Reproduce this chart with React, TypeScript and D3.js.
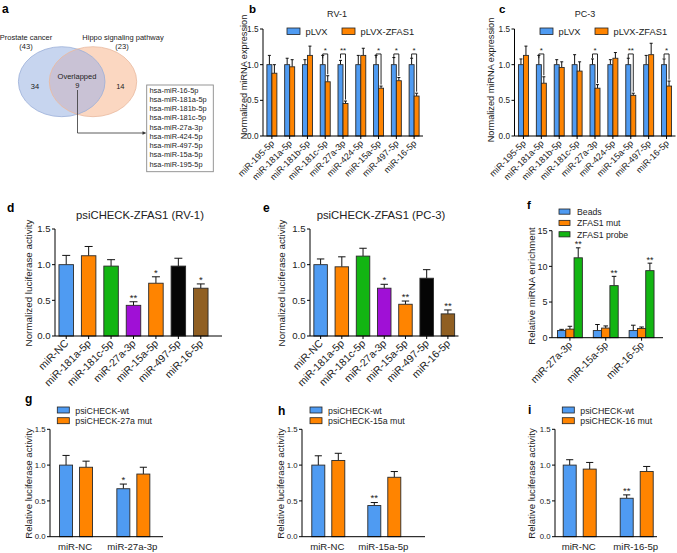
import React from "react";
import * as d3 from "d3";

const FONT = "'Liberation Sans', Arial, Helvetica, sans-serif";
const BLUE = "#4f9bf2";
const ORANGE = "#ff8400";
const GREEN = "#12b512";
const PURPLE = "#a010d6";
const BLACK = "#050505";
const BROWN = "#905f22";
const INK = "#222";

// ---------- a : Venn ----------
const vennSets = ["Prostate cancer", "Hippo signaling pathway"];
const vennSetSizes = [43, 23];
const vennRegionCounts = [34, 9, 14];
const vennOverlapLabel = "Overlapped";
const overlapMirnas = [
  "hsa-miR-16-5p",
  "hsa-miR-181a-5p",
  "hsa-miR-181b-5p",
  "hsa-miR-181c-5p",
  "hsa-miR-27a-3p",
  "hsa-miR-424-5p",
  "hsa-miR-497-5p",
  "hsa-miR-15a-5p",
  "hsa-miR-195-5p",
];

// ---------- b, c : expression ----------
const mirCategories = [
  "miR-195-5p",
  "miR-181a-5p",
  "miR-181b-5p",
  "miR-181c-5p",
  "miR-27a-3p",
  "miR-424-5p",
  "miR-15a-5p",
  "miR-497-5p",
  "miR-16-5p",
];
const expressionSeries = ["pLVX", "pLVX-ZFAS1"];
const rv1Plvx = [1, 1, 1, 1, 1, 1, 1, 1, 1];
const rv1PlvxSd = [0.13, 0.09, 0.07, 0.13, 0.06, 0.13, 0.13, 0.1, 0.09];
const rv1Zfas = [0.88, 0.97, 1.13, 0.76, 0.455, 1.13, 0.67, 0.775, 0.56];
const rv1ZfasSd = [0.12, 0.1, 0.13, 0.085, 0.035, 0.1, 0.03, 0.045, 0.04];
const rv1Sig = ["", "", "", "*", "**", "", "*", "*", "*"];
const pc3Plvx = [1, 1, 1, 1, 1, 1, 1, 1, 1];
const pc3PlvxSd = [0.08, 0.13, 0.07, 0.14, 0.08, 0.07, 0.09, 0.13, 0.08];
const pc3Zfas = [1.13, 0.74, 0.96, 0.91, 0.67, 1.09, 0.57, 1.14, 0.7];
const pc3ZfasSd = [0.13, 0.09, 0.08, 0.13, 0.05, 0.08, 0.03, 0.16, 0.07];
const pc3Sig = ["", "*", "", "", "*", "", "**", "", "*"];
const ratioTicks = [0, 0.5, 1, 1.5];

// ---------- d, e : luciferase ----------
const lucCategories = [
  "miR-NC",
  "miR-181a-5p",
  "miR-181c-5p",
  "miR-27a-3p",
  "miR-15a-5p",
  "miR-497-5p",
  "miR-16-5p",
];
const lucColors = [BLUE, ORANGE, GREEN, PURPLE, ORANGE, BLACK, BROWN];
const rv1Luc = [1.0, 1.125, 0.98, 0.43, 0.74, 0.98, 0.67];
const rv1LucSd = [0.13, 0.13, 0.09, 0.05, 0.09, 0.11, 0.06];
const rv1LucSig = ["", "", "", "**", "*", "", "*"];
const pc3Luc = [1.0, 0.97, 1.12, 0.67, 0.445, 0.81, 0.31];
const pc3LucSd = [0.08, 0.14, 0.11, 0.055, 0.045, 0.12, 0.055];
const pc3LucSig = ["", "", "", "*", "**", "", "**"];

// ---------- f : pulldown ----------
const pulldownCategories = ["miR-27a-3p", "miR-15a-5p", "miR-16-5p"];
const pulldownSeries = ["Beads", "ZFAS1 mut", "ZFAS1 probe"];
const beads = [1.0, 1.0, 1.0];
const beadsSd = [0.17, 0.85, 0.75];
const mutProbe = [1.2, 1.35, 1.3];
const mutProbeSd = [0.4, 0.3, 0.2];
const zfasProbe = [11.2, 7.3, 9.4];
const zfasProbeSd = [1.4, 1.3, 1.05];
const pulldownSig = ["**", "**", "**"];
const enrichTicks = [0, 5, 10, 15];

// ---------- g, h, i : rescue ----------
const wtLabel = "psiCHECK-wt";
const gCats = ["miR-NC", "miR-27a-3p"];
const gMutLabel = "psiCHECK-27a mut";
const gWt = [1.0, 0.67];
const gWtSd = [0.135, 0.065];
const gMut = [0.97, 0.875];
const gMutSd = [0.085, 0.095];
const gSig = ["", "*"];
const hCats = ["miR-NC", "miR-15a-5p"];
const hMutLabel = "psiCHECK-15a mut";
const hWt = [1.0, 0.435];
const hWtSd = [0.13, 0.042];
const hMut = [1.065, 0.83];
const hMutSd = [0.1, 0.08];
const hSig = ["", "**"];
const iCats = ["miR-NC", "miR-16-5p"];
const iMutLabel = "psiCHECK-16 mut";
const iWt = [1.0, 0.537];
const iWtSd = [0.075, 0.047];
const iMut = [0.944, 0.911];
const iMutSd = [0.093, 0.07];
const iSig = ["", "**"];

const fmt1 = d3.format(".1f");
const fmt0 = d3.format("d");

function LeftAxis({ x, y, ticks, fmt, fs }: any) {
  const [d0, d1] = y.domain();
  return (
    <g>
      <line x1={x} x2={x} y1={y(d0)} y2={y(d1)} stroke="#000" strokeWidth={1} />
      {ticks.map((t: number) => (
        <g key={t}>
          <line x1={x - 3} x2={x} y1={y(t)} y2={y(t)} stroke="#000" strokeWidth={1} />
          <text x={x - 4.5} y={y(t)} dy="0.35em" textAnchor="end" fontSize={fs} fill={INK}>
            {fmt(t)}
          </text>
        </g>
      ))}
    </g>
  );
}

function Bar({ x, w, y, v, sd, fill }: any) {
  const top = y(v);
  const base = y(0);
  const et = y(v + sd);
  const cx = x + w / 2;
  const cap = Math.max(w * 0.55, 3);
  return (
    <g>
      <line x1={cx} x2={cx} y1={top} y2={et} stroke="#111" strokeWidth={1} />
      <line x1={cx - cap / 2} x2={cx + cap / 2} y1={et} y2={et} stroke="#111" strokeWidth={1} />
      <rect x={x} y={top} width={w} height={base - top} fill={fill} stroke="#2a2a2a" strokeWidth={0.9} />
    </g>
  );
}

function RotLabel({ x, y, text, fs }: any) {
  return (
    <text transform={`translate(${x},${y}) rotate(-45)`} textAnchor="end" fontSize={fs} fill={INK}>
      {text}
    </text>
  );
}

function YTitle({ x, cy, text, fs }: any) {
  return (
    <text transform={`translate(${x},${cy}) rotate(-90)`} textAnchor="middle" fontSize={fs} fill={INK}>
      {text}
    </text>
  );
}

function VennPanel() {
  const L = { cx: 61.7, cy: 81.7, rx: 43.3, ry: 35 };
  const R = { cx: 93, cy: 81.7, rx: 43.7, ry: 35 };
  const listY = d3.scaleLinear().domain([0, overlapMirnas.length - 1]).range([92.7, 166.7]);
  return (
    <g>
      <text x={2} y={13} fontSize={12} fontWeight="bold">a</text>
      <defs>
        <clipPath id="vennLeftClip">
          <ellipse {...L} />
        </clipPath>
      </defs>
      <ellipse {...L} fill="#c7d5ef" />
      <ellipse {...R} fill="#fbd7c1" />
      <ellipse {...R} fill="#c9c2d5" clipPath="url(#vennLeftClip)" />
      <ellipse {...L} fill="none" stroke="#9aafd8" strokeWidth={0.8} />
      <ellipse {...R} fill="none" stroke="#e8b99e" strokeWidth={0.8} />
      <text x={26} y={39.5} fontSize={7.5} textAnchor="middle" fill={INK}>{vennSets[0]}</text>
      <text x={26} y={48.5} fontSize={7.5} textAnchor="middle" fill={INK}>({vennSetSizes[0]})</text>
      <text x={123} y={39.5} fontSize={7.5} textAnchor="middle" fill={INK}>{vennSets[1]}</text>
      <text x={122} y={48.5} fontSize={7.5} textAnchor="middle" fill={INK}>({vennSetSizes[1]})</text>
      <text x={35} y={89} fontSize={7.5} textAnchor="middle" fill={INK}>{vennRegionCounts[0]}</text>
      <text x={77} y={78.5} fontSize={7.5} textAnchor="middle" fill={INK}>{vennOverlapLabel}</text>
      <text x={77.3} y={87.5} fontSize={7.5} textAnchor="middle" fill={INK}>{vennRegionCounts[1]}</text>
      <text x={120.3} y={89} fontSize={7.5} textAnchor="middle" fill={INK}>{vennRegionCounts[2]}</text>
      <path d="M77.5,90 V133 H143" fill="none" stroke="#333" strokeWidth={0.8} />
      <polygon points="146.5,133 142.5,131.2 142.5,134.8" fill="#333" />
      <rect x={146.7} y={85} width={66.6} height={86.7} fill="#fff" stroke="#8a8a8a" strokeWidth={0.9} />
      {overlapMirnas.map((m, i) => (
        <text key={m} x={149.5} y={listY(i)} fontSize={7.4} fill={INK}>{m}</text>
      ))}
    </g>
  );
}

function ExpressionPanel(p: any) {
  const y = d3.scaleLinear().domain([0, 1.5]).range([136, 29]);
  const xb = d3.scaleBand<string>().domain(mirCategories).range([p.ox, p.ex]);
  const bw = 5;
  const y0 = y(0);
  return (
    <g>
      <text x={p.letterX} y={13} fontSize={11.5} fontWeight="bold">{p.letter}</text>
      <text x={p.titleX} y={16.5} fontSize={9} textAnchor="middle" fill={INK}>{p.title}</text>
      {expressionSeries.map((s, i) => (
        <g key={s}>
          <rect x={p.legX[i]} y={28} width={13} height={6.5} fill={i ? ORANGE : BLUE} stroke="#222" strokeWidth={0.8} />
          <text x={p.legX[i] + 18.5} y={34.7} fontSize={9.3} fill={INK}>{s}</text>
        </g>
      ))}
      <YTitle x={p.ylabX} cy={p.ylabY} text="Normalized miRNA expression" fs={9.2} />
      {mirCategories.map((c, i) => {
        const cx = (xb(c) as number) + xb.bandwidth() / 2;
        const s = p.sig[i];
        const yb = y(1.15);
        return (
          <g key={c}>
            <Bar x={cx - bw} w={bw} y={y} v={p.a[i]} sd={p.asd[i]} fill={BLUE} />
            <Bar x={cx} w={bw} y={y} v={p.b[i]} sd={p.bsd[i]} fill={ORANGE} />
            <line x1={cx} x2={cx} y1={y0} y2={y0 + 3} stroke="#000" />
            <RotLabel x={cx + 3} y={y0 + 8} text={c} fs={9} />
            {s ? (
              <g>
                <path
                  d={`M${cx - bw / 2},${y(1.09)} V${yb} H${cx + bw / 2} V${y(p.b[i] + p.bsd[i]) - 1.5}`}
                  fill="none"
                  stroke="#111"
                  strokeWidth={0.9}
                />
                <text x={cx} y={yb - 0.6} textAnchor="middle" fontSize={8} fill={INK}>{s}</text>
              </g>
            ) : null}
          </g>
        );
      })}
      <line x1={p.ox} x2={p.ex} y1={y0} y2={y0} stroke="#000" />
      <LeftAxis x={p.ox} y={y} ticks={ratioTicks} fmt={fmt1} fs={8.2} />
    </g>
  );
}

function LucPanel(p: any) {
  const y = d3.scaleLinear().domain([0, 1.5]).range([336, 229]);
  const xb = d3.scaleBand<string>().domain(lucCategories).range([p.ox, p.bandEnd]);
  const bw = p.bw;
  const y0 = y(0);
  return (
    <g>
      <text x={p.letterX} y={212} fontSize={12} fontWeight="bold">{p.letter}</text>
      <text x={p.titleX} y={218.5} fontSize={11.3} textAnchor="middle" fill={INK}>{p.title}</text>
      <YTitle x={p.ylabX} cy={283} text="Normalized luciferase activity" fs={9.8} />
      {lucCategories.map((c, i) => {
        const cx = (xb(c) as number) + xb.bandwidth() / 2;
        const et = y(p.vals[i] + p.sds[i]);
        return (
          <g key={c}>
            <Bar x={cx - bw / 2} w={bw} y={y} v={p.vals[i]} sd={p.sds[i]} fill={lucColors[i]} />
            <line x1={cx} x2={cx} y1={y0} y2={y0 + 3} stroke="#000" />
            <RotLabel x={cx + 3} y={y0 + 8} text={c} fs={10.5} />
            {p.sig[i] ? (
              <text x={cx} y={et - 1.2} textAnchor="middle" fontSize={9.5} fill={INK}>{p.sig[i]}</text>
            ) : null}
          </g>
        );
      })}
      <line x1={p.ox} x2={p.axisEnd} y1={y0} y2={y0} stroke="#000" />
      <LeftAxis x={p.ox} y={y} ticks={ratioTicks} fmt={fmt1} fs={9.6} />
    </g>
  );
}

function PulldownPanel() {
  const y = d3.scaleLinear().domain([0, 15]).range([337.7, 230.7]);
  const xb = d3.scaleBand<string>().domain(pulldownCategories).range([552, 659.5]);
  const bw = 8.3;
  const y0 = y(0);
  const series = [
    { v: beads, sd: beadsSd, fill: BLUE },
    { v: mutProbe, sd: mutProbeSd, fill: ORANGE },
    { v: zfasProbe, sd: zfasProbeSd, fill: GREEN },
  ];
  const legY = d3.scaleLinear().domain([0, 2]).range([209, 231.7]);
  return (
    <g>
      <text x={527} y={209} fontSize={11.5} fontWeight="bold">f</text>
      {pulldownSeries.map((s, i) => (
        <g key={s}>
          <rect x={559} y={legY(i)} width={11} height={5.2} fill={series[i].fill} stroke="#222" strokeWidth={0.8} />
          <text x={577} y={legY(i) + 5.8} fontSize={8.7} fill={INK}>{s}</text>
        </g>
      ))}
      <YTitle x={535} cy={286} text="Relative miRNA enrichment" fs={9.6} />
      {pulldownCategories.map((c, i) => {
        const cx = (xb(c) as number) + xb.bandwidth() / 2;
        const et = y(zfasProbe[i] + zfasProbeSd[i]);
        return (
          <g key={c}>
            {series.map((s, k) => (
              <Bar key={k} x={cx + (k - 1.5) * bw} w={bw} y={y} v={s.v[i]} sd={s.sd[i]} fill={s.fill} />
            ))}
            <line x1={cx} x2={cx} y1={y0} y2={y0 + 3} stroke="#000" />
            <RotLabel x={cx + 3} y={y0 + 8} text={c} fs={10.3} />
            <text x={cx + bw} y={et - 0.5} textAnchor="middle" fontSize={9} fill={INK}>{pulldownSig[i]}</text>
          </g>
        );
      })}
      <line x1={552} x2={663} y1={y0} y2={y0} stroke="#000" />
      <LeftAxis x={552} y={y} ticks={enrichTicks} fmt={fmt0} fs={9} />
    </g>
  );
}

function RescuePanel(p: any) {
  const y = d3.scaleLinear().domain([0, 1.5]).range([536.7, 429.3]);
  const xb = d3.scaleBand<string>().domain(p.cats).range(p.band);
  const bw = 13;
  const y0 = y(0);
  return (
    <g>
      <text x={p.letterX} y={p.letterY} fontSize={12} fontWeight="bold">{p.letter}</text>
      {[wtLabel, p.mutLabel].map((s: string, i: number) => (
        <g key={s}>
          <rect x={p.legX} y={407 + i * 10.7} width={12} height={6} fill={i ? ORANGE : BLUE} stroke="#222" strokeWidth={0.8} />
          <text x={p.legX + 18} y={413.5 + i * 10.5} fontSize={8.8} fill={INK}>{s}</text>
        </g>
      ))}
      <YTitle x={p.ylabX} cy={483.5} text="Relative luciferase activity" fs={9.6} />
      {p.cats.map((c: string, i: number) => {
        const cx = (xb(c) as number) + xb.bandwidth() / 2;
        const et = y(p.wt[i] + p.wtSd[i]);
        return (
          <g key={c}>
            <Bar x={cx - 16.5} w={bw} y={y} v={p.wt[i]} sd={p.wtSd[i]} fill={BLUE} />
            <Bar x={cx + 3.5} w={bw} y={y} v={p.mut[i]} sd={p.mutSd[i]} fill={ORANGE} />
            <text x={cx - 1} y={549.5} textAnchor="middle" fontSize={9.6} fill={INK}>{c}</text>
            {p.sig[i] ? (
              <text x={cx - 10} y={et - 1.2} textAnchor="middle" fontSize={9.5} fill={INK}>{p.sig[i]}</text>
            ) : null}
          </g>
        );
      })}
      <line x1={p.axisX} x2={p.axisEnd} y1={y0} y2={y0} stroke="#000" />
      <LeftAxis x={p.axisX} y={y} ticks={ratioTicks} fmt={fmt1} fs={7.8} />
    </g>
  );
}

export default function App() {
  return (
    <svg
      width={677}
      height={553}
      viewBox="0 0 677 553"
      style={{ position: "absolute", left: 0, top: 0, background: "#fff" }}
      fontFamily={FONT}
    >
      <rect width={677} height={553} fill="#fff" />
      <VennPanel />
      <ExpressionPanel
        ox={263}
        ex={423}
        letter="b"
        letterX={249}
        title="RV-1"
        titleX={337}
        legX={[287, 342]}
        ylabX={246.5}
        ylabY={77}
        a={rv1Plvx}
        asd={rv1PlvxSd}
        b={rv1Zfas}
        bsd={rv1ZfasSd}
        sig={rv1Sig}
      />
      <ExpressionPanel
        ox={514.5}
        ex={675.5}
        letter="c"
        letterX={499}
        title="PC-3"
        titleX={585}
        legX={[540, 595]}
        ylabX={493.5}
        ylabY={80}
        a={pc3Plvx}
        asd={pc3PlvxSd}
        b={pc3Zfas}
        bsd={pc3ZfasSd}
        sig={pc3Sig}
      />
      <LucPanel
        ox={55}
        bandEnd={212}
        axisEnd={222}
        bw={14.5}
        letter="d"
        letterX={7}
        title="psiCHECK-ZFAS1 (RV-1)"
        titleX={140}
        ylabX={31.5}
        vals={rv1Luc}
        sds={rv1LucSd}
        sig={rv1LucSig}
      />
      <LucPanel
        ox={310}
        bandEnd={458.5}
        axisEnd={458.5}
        bw={13.5}
        letter="e"
        letterX={263}
        title="psiCHECK-ZFAS1 (PC-3)"
        titleX={381}
        ylabX={284.5}
        vals={pc3Luc}
        sds={pc3LucSd}
        sig={pc3LucSig}
      />
      <PulldownPanel />
      <RescuePanel
        cats={gCats}
        mutLabel={gMutLabel}
        wt={gWt}
        wtSd={gWtSd}
        mut={gMut}
        mutSd={gMutSd}
        sig={gSig}
        axisX={50}
        axisEnd={163}
        band={[47.4, 162]}
        letter="g"
        letterX={25}
        letterY={403}
        legX={57.3}
        ylabX={31.5}
      />
      <RescuePanel
        cats={hCats}
        mutLabel={hMutLabel}
        wt={hWt}
        wtSd={hWtSd}
        mut={hMut}
        mutSd={hMutSd}
        sig={hSig}
        axisX={302}
        axisEnd={425}
        band={[300.3, 412.3]}
        letter="h"
        letterX={278}
        letterY={415}
        legX={310}
        ylabX={283.5}
      />
      <RescuePanel
        cats={iCats}
        mutLabel={iMutLabel}
        wt={iWt}
        wtSd={iWtSd}
        mut={iMut}
        mutSd={iMutSd}
        sig={iSig}
        axisX={555}
        axisEnd={657}
        band={[551.2, 665.2]}
        letter="i"
        letterX={528}
        letterY={414}
        legX={562.3}
        ylabX={535}
      />
    </svg>
  );
}
